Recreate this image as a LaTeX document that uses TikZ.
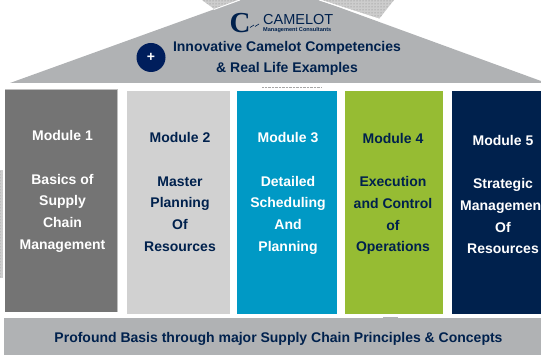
\documentclass[tikz,border=0pt]{standalone}
\usepackage{fontspec}
\setmainfont{Liberation Sans}
\newfontfamily\logofont{Liberation Serif}
\usetikzlibrary{patterns}
\definecolor{navy}{RGB}{0,33,77}
\definecolor{plusblue}{RGB}{0,30,92}
\definecolor{roofgray}{RGB}{176,178,180}
\definecolor{hatchgray}{RGB}{205,205,205}
\definecolor{darkgray}{RGB}{116,116,116}
\definecolor{lightgray}{RGB}{209,209,209}
\definecolor{cyanblue}{RGB}{0,153,197}
\definecolor{limegreen}{RGB}{150,188,51}
\begin{document}
\begin{tikzpicture}[x=1pt,y=-1pt]

            \tikzstyle{modulelabel} = [align=center, font=\bfseries\fontsize{14}{21.7}\selectfont, anchor=north, inner sep=0pt];
            \tikzstyle{rooflabel} = [text=navy, font=\bfseries\fontsize{14}{16}\selectfont];
            \tikzstyle{hatch} = [fill=hatchgray, postaction={pattern=dots, pattern color=gray}];

            \useasboundingbox (0,0) rectangle (541,355);

            % roof
            \path[hatch] (202,0) -- (214,9) -- (238,0) -- cycle;
            \path[hatch] (322,0) -- (394,0) -- (379,19) -- cycle;
            \path[hatch] (0,170) rectangle (2.5,278);
            \fill[roofgray] (10,83) -- (240,0) -- (319,0) -- (541,81) -- (541,83) -- cycle;
            \draw[white, thick] (240,0) -- (214,9.5);
            \draw[white, thick] (319,0) -- (379,19);

            \node[text=navy, font=\logofont\bfseries\fontsize{29}{29}\selectfont] (logoc) at (240,23) {C};
            \draw[navy, semithick] (250,27.5) -- (254,25);
            \draw[navy, semithick] (255,26.5) -- (259,24);
            \node[text=navy, font=\fontsize{14.5}{14.5}\selectfont, anchor=west, inner sep=0pt] (camelot) at (263,20) {CAMELOT};
            \node[text=navy, font=\bfseries\fontsize{5.6}{6}\selectfont, anchor=west, inner sep=0pt] (consultants) at (263,30) {Management Consultants};

            \node[circle, fill=plusblue, text=white, minimum size=29pt, inner sep=0pt, font=\bfseries\fontsize{14}{14}\selectfont] (plus) at (151,57.5) {+};
            \node[rooflabel] (innov) at (287,48) {Innovative Camelot Competencies};
            \node[rooflabel] (life) at (287,69) {\& Real Life Examples};
            \draw[gray!70, densely dotted] (262,87) -- (321,87);

            % modules
            \fill[darkgray] (5,89) rectangle (117,312);
            \draw[gray!50] (5,89) -- (117,89) -- (117,312);
            \fill[lightgray] (127,91) rectangle (230,314);
            \fill[cyanblue] (237,91) rectangle (337,314);
            \fill[limegreen] (345,91) rectangle (443,314);
            \fill[navy] (452,91) rectangle (541,314);

            \node[modulelabel, text=white] (m1) at (62.5,130.5) {Module 1\\[0pt]\\Basics of\\Supply\\Chain\\Management};
            \node[modulelabel, text=navy] (m2) at (180,132.5) {Module 2\\[0pt]\\Master\\Planning\\Of\\Resources};
            \node[modulelabel, text=white] (m3) at (288,132.5) {Module 3\\[0pt]\\Detailed\\Scheduling\\And\\Planning};
            \node[modulelabel, text=navy] (m4) at (393,133) {Module 4\\[0pt]\\Execution\\and Control\\of\\Operations};
            \node[modulelabel, text=white] (m5) at (503,135) {Module 5\\[0pt]\\Strategic\\Management\\Of\\Resources};

            % base
            \fill[roofgray] (4,318) rectangle (541,355);
            \fill[roofgray] (383,317) rectangle (398,318);
            \node[rooflabel] (base) at (278.5,339) {Profound Basis through major Supply Chain Principles \& Concepts};

\end{tikzpicture}
\end{document}
